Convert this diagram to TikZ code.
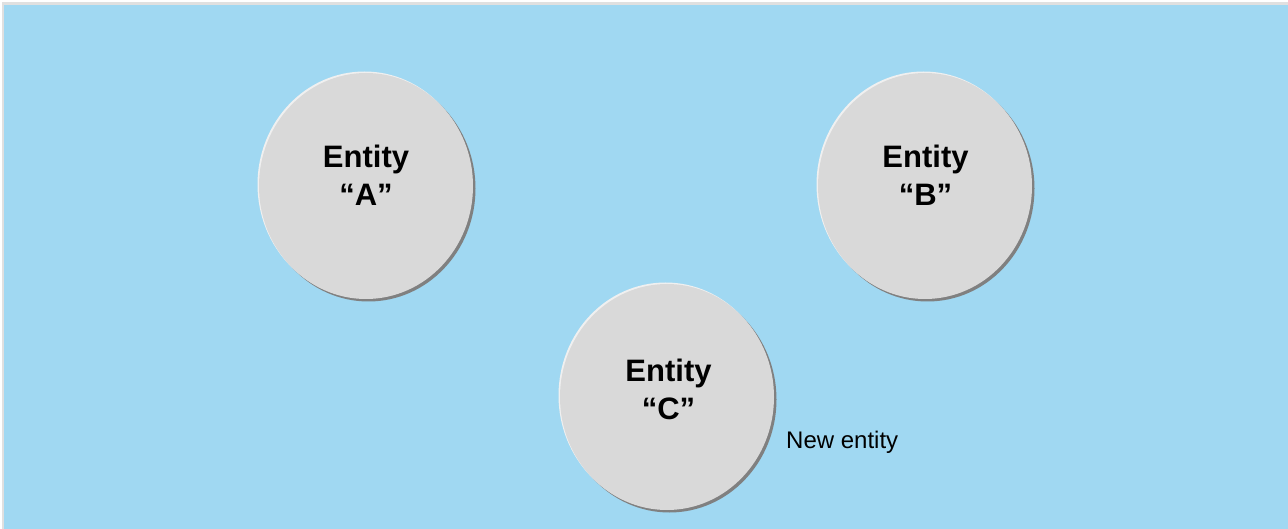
\documentclass[tikz,border=0pt]{standalone}
\usepackage{fontspec}
\setmainfont{Liberation Sans}
\usetikzlibrary{shapes.geometric,shadows}
\definecolor{bgblue}{HTML}{A0D8F2}
\definecolor{entfill}{HTML}{D9D9D9}
\definecolor{entshadow}{HTML}{808080}
\definecolor{entlight}{HTML}{F0F0F0}
\definecolor{frameline}{HTML}{E0E0E0}
\tikzset{
  entity/.style={ellipse, minimum width=214pt, minimum height=226pt, inner sep=0pt,
    fill=entfill, draw=none,
    drop shadow={shadow xshift=2.5pt, shadow yshift=-2.5pt, fill=entshadow, opacity=1},
    drop shadow={shadow xshift=-1.5pt, shadow yshift=1.5pt, fill=entlight, opacity=1}},
  enttext/.style={align=center, inner sep=0pt, font=\fontsize{31}{38}\selectfont\bfseries},
  note/.style={inner sep=0pt, anchor=base west, font=\fontsize{24}{28}\selectfont}
}
\begin{document}
\begin{tikzpicture}[x=1pt,y=-1pt]
\useasboundingbox (0,0) rectangle (1288,529);
\fill[white] (0,0) rectangle (1288,529);
\fill[frameline] (2,2) rectangle (1288,529);
\fill[bgblue] (4,5) rectangle (1288,529);
\node[entity] (A) at (366,186) {};
\node[entity] (B) at (925,186) {};
\node[entity] (C) at (667,397) {};
\node[enttext] (tA) at (366,175.5) {Entity\\“A”};
\node[enttext] (tB) at (925.5,175.5) {Entity\\“B”};
\node[enttext] (tC) at (668.5,389) {Entity\\“C”};
\node[note] (n) at (786,448) {New entity};
\end{tikzpicture}
\end{document}
